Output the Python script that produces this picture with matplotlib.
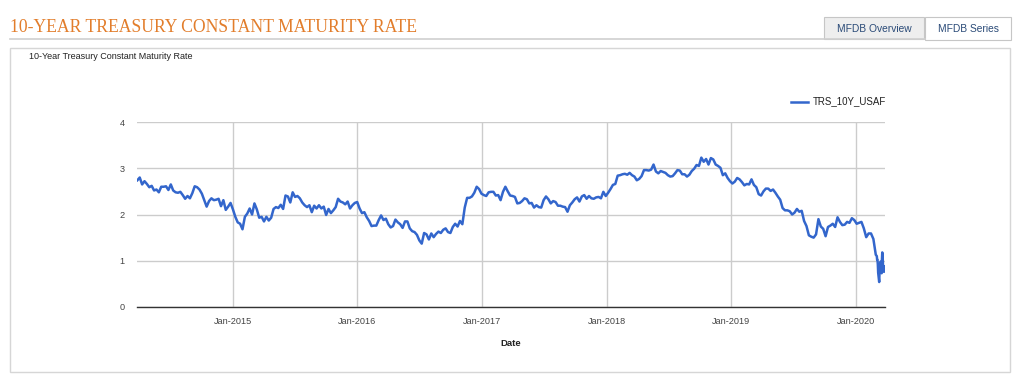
import matplotlib
matplotlib.use("Agg")
import matplotlib.pyplot as plt
import matplotlib.dates as mdates
from matplotlib.patches import Rectangle
from matplotlib.lines import Line2D
import pandas as pd

# ---------------- data (10-year treasury rate, weekly Friday readings) -------------
weekly_start = "2014-03-28"
vals_2014 = [2.74, 2.80, 2.65, 2.72, 2.66,
             2.59, 2.62, 2.52, 2.54, 2.48,
             2.60, 2.60, 2.61, 2.53,
             2.65, 2.52, 2.48, 2.47,
             2.49, 2.42, 2.34, 2.40, 2.35,
             2.46, 2.61, 2.59, 2.54,
             2.45, 2.31, 2.17, 2.29, 2.35,
             2.31, 2.32, 2.34, 2.18,
             2.31, 2.10, 2.17, 2.25]
vals_2015 = [2.11, 1.95, 1.83, 1.80, 1.68,
             1.95, 2.02, 2.13, 2.00,
             2.24, 2.11, 1.93, 1.95,
             1.85, 1.95, 1.87, 1.93,
             2.12, 2.16, 2.14, 2.21, 2.12,
             2.41, 2.39, 2.26, 2.48,
             2.38, 2.40, 2.35, 2.26, 2.20,
             2.16, 2.20, 2.05, 2.19,
             2.13, 2.20, 2.13, 2.17,
             1.99, 2.12, 2.03, 2.09, 2.16,
             2.34, 2.28, 2.26, 2.22,
             2.28, 2.13, 2.20, 2.25]
vals_2016 = [2.27, 2.13, 2.03, 2.05, 1.94,
             1.86, 1.75, 1.76, 1.76,
             1.88, 1.98, 1.88, 1.91,
             1.79, 1.72, 1.75, 1.89, 1.83,
             1.79, 1.71, 1.85, 1.85,
             1.70, 1.64, 1.62, 1.56,
             1.44, 1.37, 1.60, 1.57, 1.46,
             1.59, 1.51, 1.58, 1.63,
             1.60, 1.67, 1.70, 1.62, 1.60,
             1.73, 1.80, 1.74, 1.86,
             1.79, 2.15, 2.36, 2.36,
             2.39, 2.47, 2.60, 2.55, 2.45]
vals_2017 = [2.42, 2.40, 2.48, 2.49,
             2.49, 2.41, 2.42, 2.31,
             2.49, 2.60, 2.50, 2.41, 2.40,
             2.38, 2.24, 2.25, 2.29,
             2.35, 2.33, 2.24, 2.25,
             2.15, 2.20, 2.16, 2.15, 2.31,
             2.39, 2.33, 2.24, 2.29,
             2.27, 2.19, 2.19, 2.17,
             2.16, 2.06, 2.20, 2.26, 2.33,
             2.37, 2.28, 2.39, 2.42,
             2.34, 2.40, 2.35, 2.34,
             2.37, 2.38, 2.35, 2.49, 2.40]
vals_2018 = [2.47, 2.55, 2.64, 2.66,
             2.84, 2.85, 2.87, 2.88,
             2.86, 2.90, 2.85, 2.82, 2.74,
             2.77, 2.83, 2.96, 2.96,
             2.95, 2.97, 3.08, 2.93,
             2.89, 2.94, 2.92, 2.90, 2.85,
             2.82, 2.83, 2.89, 2.96,
             2.95, 2.87, 2.87, 2.82, 2.86,
             2.94, 2.99, 3.07, 3.05,
             3.23, 3.14, 3.20, 3.08,
             3.22, 3.19, 3.08, 3.05, 3.01,
             2.85, 2.89, 2.79, 2.72]
vals_2019 = [2.67, 2.71, 2.79, 2.76,
             2.70, 2.63, 2.66, 2.65,
             2.76, 2.64, 2.59, 2.44, 2.41,
             2.50, 2.56, 2.56, 2.51,
             2.54, 2.47, 2.39, 2.32, 2.14,
             2.09, 2.09, 2.07, 2.00,
             2.04, 2.12, 2.06, 2.08,
             1.86, 1.75, 1.55, 1.52, 1.50,
             1.57, 1.90, 1.74, 1.69,
             1.53, 1.73, 1.76, 1.80,
             1.73, 1.94, 1.84, 1.77, 1.78,
             1.84, 1.82, 1.92, 1.88]
vals_2020 = [1.80, 1.82, 1.84, 1.70, 1.51, 1.59, 1.59, 1.47, 1.13]

march_2020_dates = ["2020-03-02", "2020-03-03", "2020-03-04", "2020-03-05", "2020-03-06",
                    "2020-03-09", "2020-03-10", "2020-03-11", "2020-03-12", "2020-03-13",
                    "2020-03-16", "2020-03-17", "2020-03-18", "2020-03-19", "2020-03-20",
                    "2020-03-23", "2020-03-24", "2020-03-25", "2020-03-26"]
march_2020_vals = [1.10, 1.02, 1.02, 0.92, 0.74,
                   0.54, 0.76, 0.82, 0.88, 0.98,
                   0.73, 1.02, 1.18, 1.12, 0.92,
                   0.76, 0.84, 0.88, 0.83]

series_name = "TRS_10Y_USAF"
chart_title = "10-Year Treasury Constant Maturity Rate"
page_title = "10-YEAR TREASURY CONSTANT MATURITY RATE"
x_label = "Date"
y_ticks = [0, 1, 2, 3, 4]
x_tick_years = [2015, 2016, 2017, 2018, 2019, 2020]
tab_labels = ["MFDB Overview", "MFDB Series"]

weekly_vals = vals_2014 + vals_2015 + vals_2016 + vals_2017 + vals_2018 + vals_2019 + vals_2020
weekly_dates = pd.date_range(weekly_start, periods=len(weekly_vals), freq="W-FRI")
dates = list(weekly_dates) + list(pd.to_datetime(march_2020_dates))
values = weekly_vals + march_2020_vals

# ---------------- figure ----------------
W, H = 1024, 380
fig = plt.figure(figsize=(W / 100, H / 100), dpi=100)
fig.patch.set_facecolor("white")

def fx(x):
    return x / W

def fy(y):
    return 1 - y / H

sans = ["Liberation Sans", "DejaVu Sans"]
serif = ["Liberation Serif", "DejaVu Serif"]

# page header
fig.text(fx(10), fy(28), page_title, color="#E27D2B", fontsize=12.7,
         family=serif, ha="left", va="center")
fig.add_artist(Line2D([fx(10), fx(925)], [fy(39), fy(39)], color="#cfcfcf", lw=1.2))

# tabs
fig.add_artist(Rectangle((fx(824), fy(39)), fx(924) - fx(824), fy(17) - fy(39),
                         transform=fig.transFigure, facecolor="#eeeeee",
                         edgecolor="#c6c6c6", lw=0.8))
fig.add_artist(Rectangle((fx(925), fy(40)), fx(1011) - fx(925), fy(17) - fy(40),
                         transform=fig.transFigure, facecolor="white",
                         edgecolor="#c6c6c6", lw=0.8))
fig.text(fx(874), fy(28.5), tab_labels[0], color="#2b4b78", fontsize=7.4,
         family=sans, ha="center", va="center")
fig.text(fx(968), fy(28.5), tab_labels[1], color="#2b4b78", fontsize=7.4,
         family=sans, ha="center", va="center")

# chart box
fig.add_artist(Rectangle((fx(10), fy(372)), fx(1010) - fx(10), fy(48) - fy(372),
                         transform=fig.transFigure, facecolor="none",
                         edgecolor="#d6d6d6", lw=1.0))
fig.text(fx(29), fy(56.5), chart_title, color="#222222", fontsize=6.5,
         family=sans, ha="left", va="center")

# axes
ax = fig.add_axes([fx(137), fy(307), fx(885) - fx(137), fy(122) - fy(307)])
ax.set_facecolor("none")
line_color = "#3366cc"
ax.plot(dates, values, color=line_color, lw=1.8, solid_joinstyle="round")

ax.set_ylim(0, 4)
ax.set_xlim(pd.Timestamp("2014-03-27"), pd.Timestamp("2020-03-26"))
ax.set_yticks(y_ticks)
ax.set_xticks([pd.Timestamp(f"{y}-01-01") for y in x_tick_years])
ax.xaxis.set_major_formatter(mdates.DateFormatter("%b-%Y"))
ax.grid(True, color="#cccccc", lw=1.0)
ax.set_axisbelow(True)
for s in ["top", "right", "left"]:
    ax.spines[s].set_visible(False)
ax.spines["bottom"].set_color("#333333")
ax.spines["bottom"].set_linewidth(1.0)
ax.spines["bottom"].set_zorder(3)
ax.tick_params(axis="both", length=0, labelsize=6.6, labelcolor="#444444")
ax.tick_params(axis="y", pad=9)
ax.tick_params(axis="x", pad=7)
for lab in ax.get_xticklabels() + ax.get_yticklabels():
    lab.set_family(sans)

# x label
fig.text(fx(511), fy(343), x_label, color="#222222", fontsize=6.8,
         family=sans, weight="bold", ha="center", va="center")

# legend
fig.add_artist(Line2D([fx(791), fx(808)], [fy(101.5), fy(101.5)], color=line_color, lw=1.8))
fig.text(fx(813), fy(101.5), series_name, color="#222222", fontsize=7,
         family=sans, ha="left", va="center")

fig.savefig("out.png", dpi=100)
